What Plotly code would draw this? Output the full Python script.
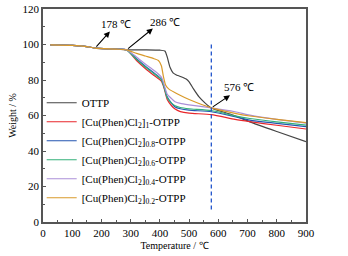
import plotly.graph_objects as go

# ---- data ----
names = ["OTTP",
         "[Cu(Phen)Cl<sub>2</sub>]<sub>1</sub>-OTPP",
         "[Cu(Phen)Cl<sub>2</sub>]<sub>0.8</sub>-OTPP",
         "[Cu(Phen)Cl<sub>2</sub>]<sub>0.6</sub>-OTPP",
         "[Cu(Phen)Cl<sub>2</sub>]<sub>0.4</sub>-OTPP",
         "[Cu(Phen)Cl<sub>2</sub>]<sub>0.2</sub>-OTPP"]
colors = ["#454545", "#e8262b", "#2354b0", "#33b07a", "#ab8fd8", "#d99a2b"]

t_ottp = [25, 100, 150, 178, 250, 286, 350, 400, 417, 425, 435, 445, 455, 470, 490, 500, 515, 534, 555, 576, 650, 708, 800, 900]
w_ottp = [99.8, 99.5, 98.8, 98.0, 97.5, 97.0, 97.0, 96.8, 96.3, 93.0, 87.0, 84.0, 83.0, 82.0, 80.5, 79.0, 75.0, 70.5, 67.0, 64.3, 60.3, 56.4, 51.0, 45.3]

t_cu = [25, 100, 150, 178, 250, 286, 320, 350, 380, 405, 415, 425, 440, 452, 470, 500, 576, 657, 708, 800, 900]
w_red = [99.8, 99.5, 98.8, 98.0, 97.4, 97.0, 91.0, 86.5, 82.5, 79.3, 75.0, 69.0, 65.5, 63.6, 62.2, 61.3, 60.5, 57.8, 56.5, 54.5, 52.4]
w_blue = [99.8, 99.5, 98.8, 98.0, 97.4, 97.0, 92.0, 87.8, 84.0, 80.6, 76.0, 70.5, 66.8, 64.8, 63.8, 63.0, 62.1, 59.3, 57.4, 55.6, 53.7]
w_green = [99.8, 99.5, 98.8, 98.0, 97.4, 97.0, 91.6, 87.3, 83.5, 80.1, 75.6, 70.0, 67.0, 65.5, 64.5, 63.8, 62.8, 59.8, 58.3, 56.4, 54.6]
w_purple = [99.8, 99.5, 98.8, 98.0, 97.4, 97.0, 93.0, 89.0, 85.4, 81.7, 77.0, 72.0, 69.5, 67.7, 66.8, 66.0, 64.3, 62.1, 60.2, 57.8, 55.7]
t_or = [25, 100, 150, 178, 250, 286, 320, 350, 380, 395, 405, 412, 420, 430, 469, 500, 576, 657, 708, 800, 900]
w_orange = [99.8, 99.5, 98.8, 98.0, 97.4, 97.0, 95.0, 93.5, 92.0, 91.0, 88.0, 82.0, 77.0, 75.0, 71.4, 69.0, 64.3, 61.2, 59.7, 57.8, 56.0]

series_x = [t_ottp, t_cu, t_cu, t_cu, t_cu, t_or]
series_y = [w_ottp, w_red, w_blue, w_green, w_purple, w_orange]

x_ticks = [0, 100, 200, 300, 400, 500, 600, 700, 800, 900]
y_ticks = [0, 20, 40, 60, 80, 100, 120]

marker_T = [178, 286, 576]
marker_W = [98.0, 97.0, 64.3]
arrow_head_T = [229, 376, 640]
arrow_head_W = [107.3, 109.0, 71.4]
label_T = [250, 417, 671]
label_W = [111.8, 112.9, 75.9]
labels = ["178 ℃", "286 ℃", "576 ℃"]
vline_T = 576
vline_W = [7, 101]

font = "Liberation Serif, Times New Roman, serif"

fig = go.Figure()
for nm, c, xs, ys in zip(names, colors, series_x, series_y):
    fig.add_trace(go.Scatter(x=xs, y=ys, name=nm, mode="lines",
                             line=dict(color=c, width=1.2, shape="spline", smoothing=0.6)))

fig.add_trace(go.Scatter(x=[vline_T, vline_T], y=vline_W, mode="lines", showlegend=False,
                         line=dict(color="#2255cc", width=1.3, dash="4px,3px")))

for mt, mw, ht, hw, lt, lw, lab in zip(marker_T, marker_W, arrow_head_T, arrow_head_W, label_T, label_W, labels):
    fig.add_annotation(x=ht, y=hw, ax=mt, ay=mw, axref="x", ayref="y", xref="x", yref="y",
                       showarrow=True, arrowhead=2, arrowsize=1.1, arrowwidth=1.1,
                       arrowcolor="black", text="")
    fig.add_annotation(x=lt, y=lw, text=lab, showarrow=False,
                       font=dict(family=font, size=11, color="black"))

axis_common = dict(showline=True, linecolor="#555555", linewidth=1.5, mirror=True,
                   ticks="inside", ticklen=3, tickcolor="#555555", showgrid=False,
                   zeroline=False, automargin=False,
                   tickfont=dict(family=font, size=11, color="black"))

fig.update_xaxes(range=[0, 900], tickvals=x_ticks,
                 title=dict(text="Temperature / ℃", font=dict(family=font, size=10, color="black"), standoff=4),
                 minor=dict(dtick=50, ticks="inside", ticklen=2, tickcolor="#555555"),
                 **axis_common)
fig.update_yaxes(range=[0, 120], tickvals=y_ticks,
                 title=dict(text="Weight / %", font=dict(family=font, size=10, color="black"), standoff=4),
                 minor=dict(dtick=10, ticks="inside", ticklen=2, tickcolor="#555555"),
                 **axis_common)

fig.update_layout(width=348, height=256, margin=dict(l=43, r=42, t=9, b=34, autoexpand=False),
                  plot_bgcolor="white", paper_bgcolor="white",
                  legend=dict(x=-0.005, y=0.628, xanchor="left", yanchor="top",
                              bgcolor="rgba(0,0,0,0)", font=dict(family=font, size=11, color="black"),
                              tracegroupgap=0, itemwidth=30),
                  showlegend=True)

fig.write_html("out.html", config={"displayModeBar": False},
               post_script="document.body.style.margin='0';document.body.style.padding='0';")
